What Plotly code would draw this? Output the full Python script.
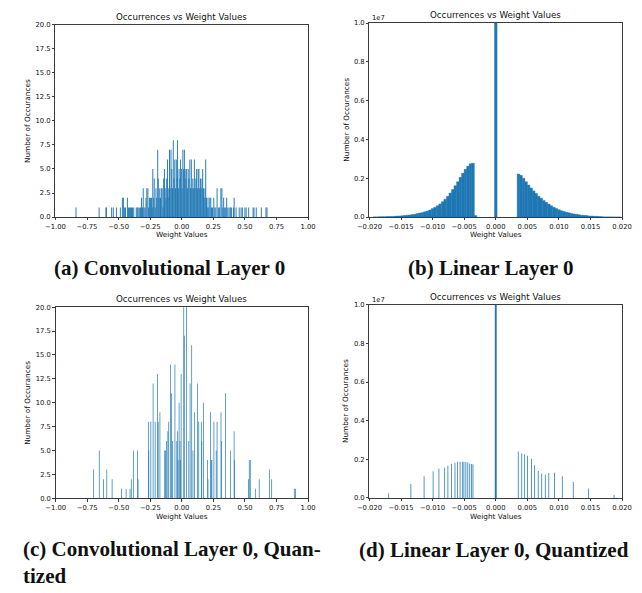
import plotly.graph_objects as go

W, H = 642, 593
BLUE = "#1f77b4"
BLUE_A = "rgba(31,119,180,0.999)"

# ---------------- data ----------------
# (a) Convolutional Layer 0 : histogram bins (centre, count)
a_centers = [-0.837, -0.654, -0.600, -0.596, -0.555, -0.542, -0.517, -0.486, -0.470, -0.462,
             -0.452, -0.445, -0.430, -0.422, -0.414, -0.405, -0.398, -0.390, -0.380, -0.360,
             -0.352, -0.345, -0.336, -0.326, -0.318, -0.310, -0.305, -0.298, -0.290, -0.283,
             -0.276, -0.268, -0.262, -0.256, -0.248, -0.240, -0.234, -0.229, -0.222, -0.218,
             -0.210, -0.204, -0.198, -0.190, -0.186, -0.180, -0.174, -0.168, -0.162, -0.155,
             -0.149, -0.143, -0.137, -0.131, -0.125, -0.119, -0.113, -0.107, -0.101, -0.097,
             -0.091, -0.085, -0.079, -0.073, -0.067, -0.061, -0.055, -0.049, -0.043, -0.037,
             -0.033, -0.027, -0.021, -0.015, -0.009, -0.003,
             0.003, 0.009, 0.015, 0.021, 0.027, 0.033, 0.039, 0.045, 0.051, 0.057,
             0.064, 0.070, 0.076, 0.082, 0.088, 0.094, 0.100, 0.106, 0.112, 0.118,
             0.124, 0.130, 0.136, 0.142, 0.148, 0.154, 0.160, 0.166, 0.172, 0.178,
             0.184, 0.190, 0.196, 0.202, 0.208, 0.214, 0.222, 0.230, 0.236, 0.244,
             0.254, 0.262, 0.270, 0.280, 0.290, 0.300, 0.310, 0.318, 0.325, 0.332,
             0.340, 0.348, 0.356, 0.365, 0.375, 0.385, 0.395, 0.410, 0.415, 0.430,
             0.455, 0.470, 0.480, 0.500, 0.510, 0.530, 0.565, 0.572, 0.590, 0.630,
             0.667, 0.675]
a_counts = [1, 1, 1, 1, 1, 1, 1, 1, 2, 2,
            1, 1, 2, 1, 1, 1, 1, 1, 1, 1,
            1, 1, 1, 1, 2, 1, 3, 1, 1, 2,
            3, 3, 1, 2, 2, 2, 1, 5, 2, 4,
            1, 3, 2, 7, 4, 2, 3, 2, 3, 3,
            1, 4, 5, 3, 2, 4, 6, 3, 2, 7,
            3, 7, 5, 3, 8, 4, 6, 3, 6, 4,
            8, 3, 5, 4, 6, 5,
            3, 7, 5, 7, 5, 4, 5, 3, 5, 4,
            6, 3, 6, 3, 4, 3, 6, 3, 4, 5,
            3, 5, 5, 3, 4, 3, 4, 5, 3, 2,
            3, 6, 2, 1, 2, 1, 2, 2, 1, 1,
            2, 1, 1, 3, 1, 1, 3, 3, 1, 2,
            1, 1, 2, 1, 1, 1, 1, 1, 2, 1,
            1, 1, 1, 1, 1, 1, 1, 1, 1, 1,
            1, 1]

# (b) Linear Layer 0 : histogram bins (centre, count in units of 1e7)
b_centers = [-0.0192, -0.0188, -0.0184, -0.0180, -0.0176, -0.0172, -0.0168, -0.0164, -0.0160, -0.0156,
             -0.0152, -0.0148, -0.0144, -0.0140, -0.0136, -0.0132, -0.0128, -0.0124, -0.0120, -0.0116,
             -0.0112, -0.0108, -0.0104, -0.0100, -0.0096, -0.0092, -0.0088, -0.0084, -0.0080, -0.0076,
             -0.0072, -0.0068, -0.0064, -0.0060, -0.0056, -0.0052, -0.0048, -0.0044, -0.0040, -0.0036,
             -0.0032, 0.0000,
             0.0036, 0.0040, 0.0044, 0.0048, 0.0052, 0.0056, 0.0060, 0.0064, 0.0068, 0.0072,
             0.0076, 0.0080, 0.0084, 0.0088, 0.0092, 0.0096, 0.0100, 0.0104, 0.0108, 0.0112,
             0.0116, 0.0120, 0.0124, 0.0128, 0.0132, 0.0136, 0.0140, 0.0144, 0.0148, 0.0152,
             0.0156, 0.0160, 0.0164, 0.0168, 0.0172, 0.0176, 0.0180, 0.0184, 0.0188, 0.0192,
             0.0196]
b_counts_e7 = [0.001, 0.001, 0.0015, 0.002, 0.002, 0.0025, 0.003, 0.0035, 0.004, 0.005,
               0.006, 0.007, 0.008, 0.010, 0.011, 0.013, 0.015, 0.018, 0.021, 0.024,
               0.028, 0.032, 0.037, 0.044, 0.051, 0.059, 0.068, 0.079, 0.092, 0.107,
               0.124, 0.142, 0.162, 0.182, 0.205, 0.226, 0.246, 0.262, 0.275, 0.278,
               0.008, 1.2,
               0.222, 0.215, 0.200, 0.182, 0.165, 0.150, 0.135, 0.122, 0.108, 0.097,
               0.086, 0.076, 0.067, 0.058, 0.051, 0.044, 0.038, 0.033, 0.029, 0.025,
               0.022, 0.019, 0.016, 0.014, 0.012, 0.010, 0.009, 0.008, 0.006, 0.005,
               0.004, 0.004, 0.003, 0.002, 0.001, 0.001, 0.0008, 0.0006, 0.0005, 0.0004,
               0.0003]

# (c) Convolutional Layer 0, Quantized
c_centers = [-0.699, -0.655, -0.622, -0.595, -0.553, -0.478, -0.442, -0.411, -0.401, -0.385,
             -0.352, -0.347, -0.266, -0.262, -0.246, -0.228, -0.212, -0.192, -0.188, -0.174,
             -0.136, -0.130, -0.121, -0.111, -0.104, -0.090, -0.082, -0.073, -0.055, -0.040,
             -0.034, -0.030, -0.022, -0.015, -0.011, -0.006, 0.015, 0.019, 0.038, 0.055,
             0.065, 0.078, 0.088, 0.101, 0.124, 0.134, 0.154, 0.158, 0.172, 0.203,
             0.207, 0.226, 0.233, 0.238, 0.254, 0.272, 0.279, 0.310, 0.315, 0.345,
             0.384, 0.414, 0.418, 0.527, 0.534, 0.542, 0.585, 0.613, 0.693, 0.712,
             0.891, 0.900]
c_counts = [3, 5, 2, 3, 2, 1, 1, 1, 2, 5,
            5, 2, 8, 5, 8, 12, 8, 13, 8, 9,
            5, 5, 6, 7, 8, 14, 11, 6, 14, 6,
            7, 4, 10, 6, 4, 13, 24, 17, 21, 6,
            12, 16, 5, 9, 12, 8, 8, 6, 10, 4,
            2, 9, 4, 4, 8, 5, 8, 9, 6, 11,
            5, 7, 4, 2, 4, 4, 1, 2, 3, 2,
            1, 1]

# (d) Linear Layer 0, Quantized (counts in units of 1e7)
d_centers = [-0.01695, -0.01344, -0.01135, -0.00992, -0.00900, -0.00809, -0.00758, -0.00702, -0.00646,
             -0.00606, -0.00565, -0.00524, -0.00504, -0.00473, -0.00443, -0.00412, -0.00382, -0.00361,
             0.0, 0.00356, 0.00412, 0.00458, 0.00504, 0.00565, 0.00616, 0.00672, 0.00728, 0.00784,
             0.00840, 0.00931, 0.01053, 0.01227, 0.01471, 0.01873]
d_counts_e7 = [0.024, 0.072, 0.112, 0.138, 0.152, 0.158, 0.167, 0.177, 0.182,
               0.187, 0.187, 0.187, 0.187, 0.186, 0.184, 0.179, 0.176, 0.174,
               1.2, 0.240, 0.230, 0.226, 0.218, 0.203, 0.170, 0.140, 0.126, 0.121,
               0.129, 0.130, 0.112, 0.083, 0.049, 0.015]

conv_xticks = [-1.0, -0.75, -0.5, -0.25, 0.0, 0.25, 0.5, 0.75, 1.0]
conv_yticks = [0.0, 2.5, 5.0, 7.5, 10.0, 12.5, 15.0, 17.5, 20.0]
lin_xticks = [-0.02, -0.015, -0.01, -0.005, 0.0, 0.005, 0.01, 0.015, 0.02]
lin_yticks = [0.0, 0.2, 0.4, 0.6, 0.8, 1.0]

title_text = "Occurrences vs Weight Values"
xlabel_text = "Weight Values"
ylabel_text = "Number of Occurances"
captions = ["(a) Convolutional Layer 0", "(b) Linear Layer 0",
            "(c) Convolutional Layer 0, Quan-<br>tized", "(d) Linear Layer 0, Quantized"]

# ---------------- figure ----------------
def px(X):
    return X / W

def py(Y):
    return 1 - Y / H

fig = go.Figure()
fig.add_trace(go.Bar(x=a_centers, y=a_counts, width=0.0075, xaxis="x", yaxis="y",
                     marker=dict(color=BLUE_A, line=dict(width=0))))
fig.add_trace(go.Bar(x=b_centers, y=b_counts_e7, width=0.00042, xaxis="x2", yaxis="y2",
                     marker=dict(color=BLUE, line=dict(width=0.4, color=BLUE))))
fig.add_trace(go.Bar(x=c_centers, y=c_counts, width=0.0055, xaxis="x3", yaxis="y3",
                     marker=dict(color=BLUE_A, line=dict(width=0))))
fig.add_trace(go.Bar(x=d_centers, y=d_counts_e7, width=[0.00012] * 18 + [0.0003] + [0.00012] * 15,
                     xaxis="x4", yaxis="y4",
                     marker=dict(color=BLUE_A, line=dict(width=0))))

TXT = "#111111"
FONT = "DejaVu Sans"
tickfont = dict(family=FONT, size=6.8, color=TXT)
common = dict(showline=True, mirror=True, linecolor="#3a3a3a", linewidth=0.8,
              ticks="outside", ticklen=2.5, tickwidth=0.8, tickcolor="#3a3a3a",
              showgrid=False, zeroline=False, tickfont=tickfont, fixedrange=True)

# panel boxes in pixels: (left, right, top, bottom)
boxes = [(44, 306, 21, 216), (369.7, 631.7, 19.3, 216),
         (44.3, 306, 307.3, 501), (369.7, 631.7, 305, 500.7)]

layout_axes = {}
for i, (l, r, t, b) in enumerate(boxes):
    n = "" if i == 0 else str(i + 1)
    conv = i in (0, 2)
    layout_axes["xaxis" + n] = dict(common, domain=[px(l), px(r)], anchor="y" + n,
                                    range=[-1, 1] if conv else [-0.02, 0.02],
                                    tickvals=conv_xticks if conv else lin_xticks,
                                    tickformat=".2f" if conv else ".3f")
    layout_axes["yaxis" + n] = dict(common, domain=[py(b), py(t)], anchor="x" + n,
                                    range=[0, 20] if conv else [0, 1],
                                    tickvals=conv_yticks if conv else lin_yticks,
                                    tickformat=".1f")

fig.update_layout(**layout_axes)

ann = []
title_y = [13.5, 11.5, 299, 297.5]
xlab_y = [234, 234, 519.5, 519.5]
ylab_x = [15.7, 345, 15.7, 345]
for i, (l, r, t, b) in enumerate(boxes):
    cx = (l + r) / 2
    cy = (t + b) / 2
    ann.append(dict(text=title_text, x=px(cx), y=py(title_y[i]), xref="paper", yref="paper",
                    showarrow=False, xanchor="center", yanchor="middle",
                    font=dict(family=FONT, size=8.7, color=TXT)))
    ann.append(dict(text=xlabel_text, x=px(cx), y=py(xlab_y[i]), xref="paper", yref="paper",
                    showarrow=False, xanchor="center", yanchor="middle",
                    font=dict(family=FONT, size=7.3, color=TXT)))
    ann.append(dict(text=ylabel_text, x=px(ylab_x[i]), y=py(cy), xref="paper", yref="paper",
                    showarrow=False, xanchor="center", yanchor="middle", textangle=-90,
                    font=dict(family=FONT, size=7.3, color=TXT)))
    if i in (1, 3):
        ann.append(dict(text="1e7", x=px(l + 1), y=py(t - 5), xref="paper", yref="paper",
                        showarrow=False, xanchor="left", yanchor="middle",
                        font=dict(family=FONT, size=6.8, color=TXT)))

cap_font = dict(family="Liberation Serif", size=21, color="#111111")
cap_pos = [(40, 268), (408, 268), (8, 566), (357, 553)]
for i, (cxp, cyp) in enumerate(cap_pos):
    ann.append(dict(text="<b>" + captions[i].replace("<br>", "</b><br><b>") + "</b>",
                    x=px(cxp), y=py(cyp), xref="paper", yref="paper",
                    showarrow=False, xanchor="left", yanchor="middle", align="left",
                    font=cap_font))

fig.update_layout(width=W, height=H, margin=dict(l=0, r=0, t=0, b=0),
                  paper_bgcolor="white", plot_bgcolor="white", showlegend=False,
                  bargap=0.05, annotations=ann)

fig.write_html("out.html", config={"displayModeBar": False, "staticPlot": False},
               post_script="document.body.style.margin='0';document.body.style.overflow='hidden';")
